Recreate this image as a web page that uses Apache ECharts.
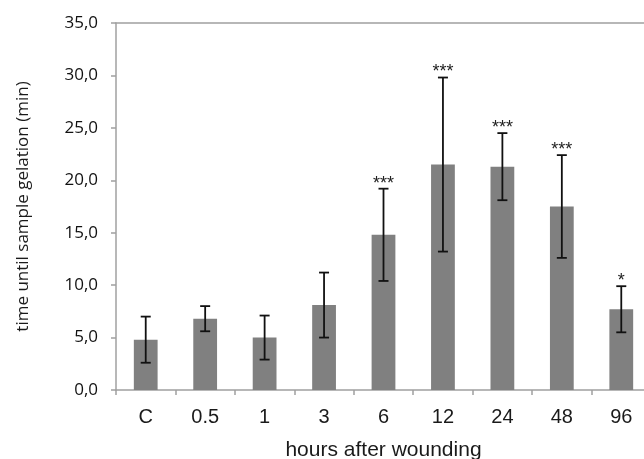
<!DOCTYPE html>
<html>
<head>
<meta charset="utf-8">
<script src="https://cdn.jsdelivr.net/npm/echarts@6/dist/echarts.min.js"></script>
<style>html,body{margin:0;padding:0;background:#fff}#c{width:644px;height:459px}</style>
</head>
<body>
<div id="c"></div>
<script>
var categories = ['C', '0.5', '1', '3', '6', '12', '24', '48', '96'];
var means = [4.8, 6.8, 5.0, 8.1, 14.8, 21.5, 21.3, 17.5, 7.7];
var errors = [2.2, 1.2, 2.1, 3.1, 4.4, 8.3, 3.2, 4.9, 2.2];
var significance = ['', '', '', '', '***', '***', '***', '***', '*'];
var yTicks = [0, 5, 10, 15, 20, 25, 30, 35];

var chart = echarts.init(document.getElementById('c'), null, {renderer: 'canvas'});
var errData = categories.map(function (c, i) { return [i, means[i], errors[i], significance[i]]; });

chart.setOption({
  animation: false,
  grid: {left: 116, top: 23, width: 535, height: 367, containLabel: false, outerBoundsMode: 'none'},
  xAxis: [{
    type: 'category',
    data: categories,
    position: 'bottom',
    axisLine: {lineStyle: {color: '#a0a0a0', width: 1.5}},
    axisTick: {show: true, length: 5, lineStyle: {color: '#a0a0a0', width: 1.5}},
    axisLabel: {fontFamily: 'Liberation Sans', fontSize: 20, color: '#1a1a1a', margin: 17},
    name: 'hours after wounding',
    nameLocation: 'middle',
    nameGap: 50,
    nameTextStyle: {fontFamily: 'Liberation Sans', fontSize: 21, color: '#1a1a1a'}
  }, {
    type: 'category',
    data: categories,
    position: 'top',
    axisLine: {show: true, lineStyle: {color: '#a0a0a0', width: 1.5}},
    axisTick: {show: false},
    axisLabel: {show: false}
  }],
  yAxis: {
    type: 'value',
    min: yTicks[0],
    max: yTicks[yTicks.length - 1],
    interval: 5,
    axisLine: {show: true, lineStyle: {color: '#a0a0a0', width: 1.5}},
    axisTick: {show: true, length: 5, lineStyle: {color: '#a0a0a0', width: 1.5}},
    splitLine: {show: false},
    axisLabel: {
      fontFamily: 'Open Sans', fontSize: 17, color: '#111', margin: 18,
      formatter: function (v) { return v.toFixed(1).replace('.', ','); }
    },
    name: 'time until sample gelation (min)',
    nameLocation: 'middle',
    nameGap: 84,
    nameRotate: 90,
    nameTextStyle: {fontFamily: 'Open Sans', fontSize: 17, color: '#1a1a1a'}
  },
  series: [{
    type: 'bar',
    data: means,
    barWidth: '40%',
    itemStyle: {color: '#808080'},
    silent: true
  }, {
    type: 'custom',
    data: errData,
    silent: true,
    z: 10,
    renderItem: function (params, api) {
      var i = api.value(0), m = api.value(1), e = api.value(2);
      var top = api.coord([i, m + e]);
      var bot = api.coord([i, m - e]);
      var hw = 5;
      var st = {stroke: '#111', lineWidth: 1.8};
      var children = [
        {type: 'line', shape: {x1: top[0], y1: top[1], x2: bot[0], y2: bot[1]}, style: st},
        {type: 'line', shape: {x1: top[0] - hw, y1: top[1], x2: top[0] + hw, y2: top[1]}, style: st},
        {type: 'line', shape: {x1: bot[0] - hw, y1: bot[1], x2: bot[0] + hw, y2: bot[1]}, style: st}
      ];
      var sig = significance[params.dataIndex];
      if (sig) {
        children.push({
          type: 'text',
          style: {
            x: top[0], y: top[1] + 4, text: sig,
            fontFamily: 'Liberation Sans', fontSize: 18,
            fill: '#222', align: 'center', verticalAlign: 'bottom'
          }
        });
      }
      return {type: 'group', children: children};
    }
  }]
});
</script>
</body>
</html>
